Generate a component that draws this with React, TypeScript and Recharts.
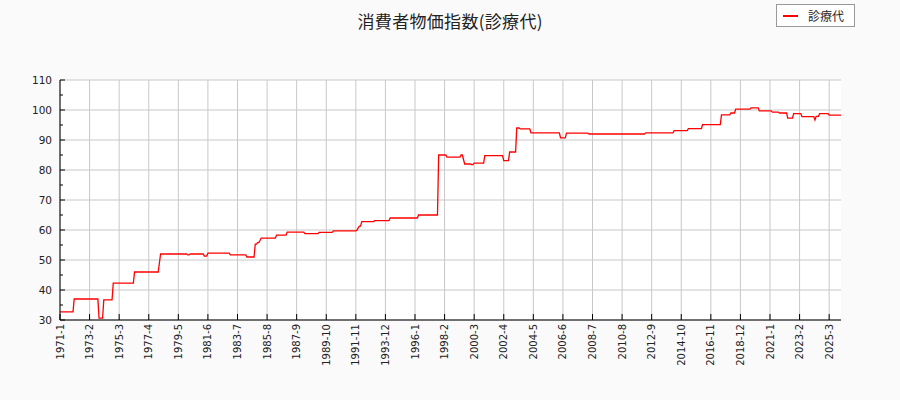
import React from 'react'
import { LineChart, Line, XAxis, YAxis, CartesianGrid } from 'recharts'

// month at which the index moves to a new level, and that level
const runStarts = [
  '1971-1', '1972-1', '1973-10', '1974-2', '1974-10', '1976-4', '1978-1', '1978-2',
  '1980-1', '1980-3', '1981-3', '1981-6', '1983-1', '1984-3', '1984-10', '1984-12',
  '1985-2', '1985-3', '1986-4', '1987-1', '1988-4', '1989-4', '1990-4', '1991-12',
  '1992-1', '1992-2', '1992-4', '1993-3', '1994-4', '1996-4', '1997-9', '1998-4',
  '1999-4', '1999-6', '1999-7', '2000-1', '2000-3', '2000-12', '2002-4', '2002-9',
  '2003-3', '2003-6', '2004-3', '2006-4', '2006-9', '2008-4', '2012-4', '2014-4',
  '2015-4', '2016-4', '2017-8', '2018-4', '2018-8', '2019-9', '2020-4', '2021-3',
  '2021-9', '2022-4', '2022-9', '2023-4', '2024-3', '2024-4', '2024-7', '2025-3',
]
const runValues = [
  32.7, 37.0, 30.6, 36.7, 42.3, 46.0, 49.0, 52.0,
  51.7, 52.0, 51.3, 52.3, 51.7, 51.0, 55.3, 55.8,
  56.5, 57.3, 58.3, 59.3, 58.8, 59.2, 59.7, 60.0,
  60.7, 61.3, 62.8, 63.1, 64.0, 65.0, 85.0, 84.3,
  85.0, 83.5, 82.0, 81.8, 82.3, 84.8, 83.1, 86.0,
  94.0, 93.7, 92.4, 90.7, 92.3, 92.0, 92.4, 93.1,
  93.8, 95.1, 98.4, 99.0, 100.3, 100.7, 99.7, 99.3,
  99.0, 97.3, 98.8, 97.8, 96.7, 97.9, 98.8, 98.3,
]
const firstMonth = '1971-1'
const lastMonth = '2026-1'

const xTickLabels = [
  '1971-1', '1973-2', '1975-3', '1977-4', '1979-5', '1981-6', '1983-7', '1985-8',
  '1987-9', '1989-10', '1991-11', '1993-12', '1996-1', '1998-2', '2000-3', '2002-4',
  '2004-5', '2006-6', '2008-7', '2010-8', '2012-9', '2014-10', '2016-11', '2018-12',
  '2021-1', '2023-2', '2025-3',
]
const yMajorTicks = [30, 40, 50, 60, 70, 80, 90, 100, 110]
const yMinorTicks = [35, 45, 55, 65, 75, 85, 95, 105]

const seriesName = '診療代'
const title = '消費者物価指数(診療代)'

const baseYear = Number(firstMonth.split('-')[0])
const toIndex = (s: string) => {
  const [y, m] = s.split('-').map(Number)
  return (y - baseYear) * 12 + m - 1
}
const toLabel = (i: number) => `${baseYear + Math.floor(i / 12)}-${(i % 12) + 1}`

// monthly rows: each month holds the level of the latest run started
const runIdx = runStarts.map(toIndex)
const data: { idx: number; value: number }[] = []
let r = 0
for (let i = 0; i <= toIndex(lastMonth); i++) {
  while (r + 1 < runIdx.length && runIdx[r + 1] <= i) r++
  data.push({ idx: i, value: runValues[r] })
}

const GRID = '#c8c8c8'

function YTick(props: any) {
  const { x, y, payload } = props
  const major = yMajorTicks.includes(payload.value)
  return (
    <g>
      <line x1={x} x2={x + (major ? 5 : 3)} y1={y} y2={y} stroke="#000" strokeWidth={1} />
      {major && (
        <text x={x - 8} y={y} textAnchor="end" dominantBaseline="central"
          fontFamily="DejaVu Sans" fontSize={10.5} fill="#222">
          {payload.value}
        </text>
      )}
    </g>
  )
}

function XTick(props: any) {
  const { x, y, payload } = props
  return (
    <g>
      <line x1={x} x2={x} y1={y} y2={y - 6} stroke="#000" strokeWidth={1} />
      <text x={x} y={y + 4} transform={`rotate(-90, ${x}, ${y + 4})`} textAnchor="end"
        dominantBaseline="central" fontFamily="DejaVu Sans" fontSize={10} fill="#222">
        {toLabel(payload.value)}
      </text>
    </g>
  )
}

export default function App() {
  return (
    <div style={{ position: 'fixed', left: 0, top: 0, width: 900, height: 400, background: '#fafafa' }}>
      <LineChart width={900} height={400} data={data}
        margin={{ top: 80, right: 59, bottom: 0, left: 0 }}>
        <CartesianGrid stroke={GRID} strokeWidth={1} fill="#fff"
          horizontalValues={yMajorTicks}
          verticalValues={xTickLabels.map(toIndex)} />
        <XAxis dataKey="idx" type="number" domain={[0, toIndex(lastMonth)]}
          ticks={xTickLabels.map(toIndex)} interval={0} height={80}
          tickSize={0} tickMargin={0} tick={<XTick />}
          axisLine={{ stroke: '#000', strokeWidth: 1 }} />
        <YAxis type="number" domain={[30, 110]} width={60}
          ticks={[...yMajorTicks, ...yMinorTicks].sort((a, b) => a - b)} interval={0}
          tickSize={0} tickMargin={0} tick={<YTick />}
          axisLine={{ stroke: '#000', strokeWidth: 1 }} />
        <Line type="linear" dataKey="value" name={seriesName} stroke="#ff0000"
          strokeWidth={1.3} dot={false} activeDot={false} isAnimationActive={false} />
      </LineChart>
      <svg width={900} height={40} style={{ position: 'absolute', left: 0, top: 0 }}>
        <text x={450} y={20} textAnchor="middle" dominantBaseline="central"
          fontFamily='"Noto Sans CJK JP"' fontSize={17} fill="#222"
          textLength={185} lengthAdjust="spacing">
          {title}
        </text>
      </svg>
      <div style={{
        position: 'absolute', left: 776, top: 4, width: 77, height: 21,
        border: '1px solid #999', background: '#fff', display: 'flex', alignItems: 'center',
      }}>
        <div style={{ width: 15, height: 2, background: '#ff0000', marginLeft: 6 }} />
        <span style={{ marginLeft: 10, fontFamily: '"Noto Sans CJK JP"', fontSize: 12, color: '#222' }}>
          {seriesName}
        </span>
      </div>
    </div>
  )
}
